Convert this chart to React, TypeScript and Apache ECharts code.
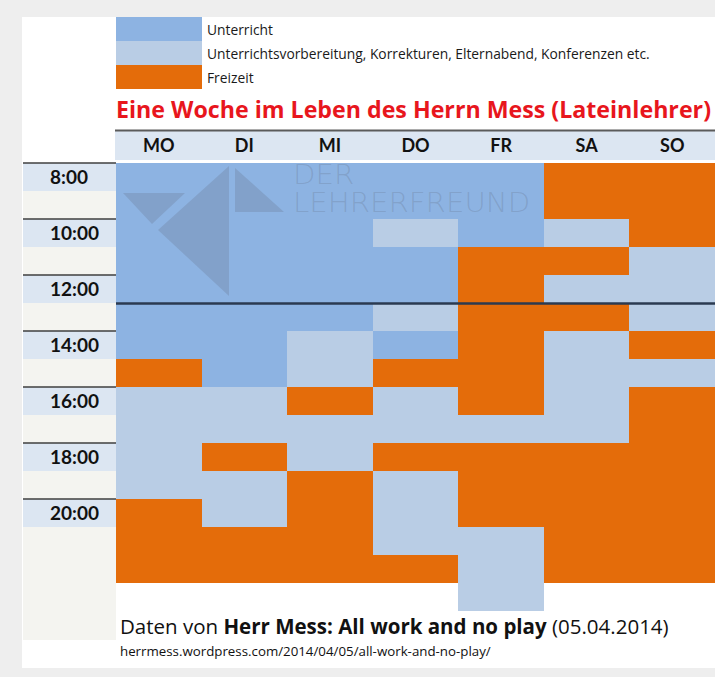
import React, { useEffect, useRef } from "react";
import * as echarts from "echarts";

// ---------- data ----------
const DAYS = ["MO", "DI", "MI", "DO", "FR", "SA", "SO"];
const FIRST_HOUR = 8;
const LAST_HOUR = 24;
const LABEL_HOURS = [8, 10, 12, 14, 16, 18, 20];
const TIME_LABELS = ["8:00", "10:00", "12:00", "14:00", "16:00", "18:00", "20:00"];
const LUNCH_LINE_HOUR = 13;

const CATEGORY_CODES = ["U", "V", "F"];
const CATEGORY_NAMES = [
  "Unterricht",
  "Unterrichtsvorbereitung, Korrekturen, Elternabend, Konferenzen etc.",
  "Freizeit",
];

// one entry per hour, 8:00 ... 23:00 ('' = nothing)
const MO = ["U", "U", "U", "U", "U", "U", "U", "F", "V", "V", "V", "V", "F", "F", "F", ""];
const DI = ["U", "U", "U", "U", "U", "U", "U", "U", "V", "V", "F", "V", "V", "F", "F", ""];
const MI = ["U", "U", "U", "U", "U", "U", "V", "V", "F", "V", "V", "F", "F", "F", "F", ""];
const DO = ["U", "U", "V", "U", "U", "V", "U", "F", "V", "V", "F", "V", "V", "V", "F", ""];
const FR = ["U", "U", "U", "F", "F", "F", "F", "F", "F", "V", "F", "F", "F", "V", "V", "V"];
const SA = ["F", "F", "V", "F", "V", "F", "V", "V", "V", "V", "F", "F", "F", "F", "F", ""];
const SO = ["F", "F", "F", "V", "V", "V", "F", "V", "F", "F", "F", "F", "F", "F", "F", ""];
const WEEK = [MO, DI, MI, DO, FR, SA, SO];

// ---------- styles ----------
const COLORS: Record<string, string> = { U: "#8db3e2", V: "#b9cde5", F: "#e46c0a" };
const FONT = "'Open Sans', sans-serif";
const LATO = "Lato, sans-serif";
const GRID = { left: 116, top: 163, width: 600, height: 448 };

function segmentsFor(code: string) {
  const out: number[][] = [];
  WEEK.forEach((hours, d) => {
    let i = 0;
    while (i < hours.length) {
      if (hours[i] !== code) {
        i++;
        continue;
      }
      let j = i;
      while (j < hours.length && hours[j] === code) j++;
      out.push([d, FIRST_HOUR + i, FIRST_HOUR + j]);
      i = j;
    }
  });
  return out;
}

export default function App() {
  const ref = useRef<HTMLDivElement>(null);

  useEffect(() => {
    if (!ref.current) return;
    const chart = echarts.init(ref.current, null, { renderer: "svg" });

    const series: any[] = CATEGORY_CODES.map((code, ci) => ({
      type: "custom",
      name: CATEGORY_NAMES[ci],
      itemStyle: { color: COLORS[code] },
      encode: { x: 0, y: [1, 2] },
      data: segmentsFor(code),
      renderItem: (params: any, api: any) => {
        const d = api.value(0);
        const a = api.coord([d, api.value(1)]);
        const b = api.coord([d, api.value(2)]);
        const w = api.size([1, 0])[0];
        const x0 = Math.round(a[0] - w / 2);
        const x1 = Math.round(a[0] + w / 2);
        const y0 = Math.round(a[1]);
        const y1 = Math.round(b[1]);
        return {
          type: "rect",
          shape: { x: x0, y: y0, width: x1 - x0, height: y1 - y0 },
          style: { fill: COLORS[code] },
        };
      },
      z: 2,
    }));
    series[0].markLine = {
      silent: true,
      symbol: "none",
      z: 20,
      label: { show: false },
      lineStyle: { color: "#2b3a50", width: 2.5, type: "solid", opacity: 1 },
      data: [{ yAxis: LUNCH_LINE_HOUR }],
    };

    chart.setOption({
      animation: false,
      backgroundColor: "#eeeeee",
      title: {
        text: "Eine Woche im Leben des Herrn Mess (Lateinlehrer)",
        left: 116,
        top: 97,
        padding: 0,
        textStyle: { color: "#e8161d", fontSize: 23.2, fontWeight: "bold", fontFamily: FONT },
      },
      legend: {
        orient: "vertical",
        left: 116,
        top: 17,
        padding: 0,
        itemGap: 0,
        itemWidth: 86,
        itemHeight: 24,
        icon: "rect",
        selectedMode: false,
        data: CATEGORY_NAMES,
        textStyle: { fontSize: 13.8, color: "#1a1a1a", fontFamily: FONT },
      },
      grid: { ...GRID },
      xAxis: {
        type: "category",
        data: DAYS,
        position: "top",
        axisLine: { show: false },
        axisTick: { show: false },
        splitLine: { show: false },
        axisLabel: {
          fontSize: 18,
          fontWeight: "bold",
          color: "#111",
          fontFamily: LATO,
          margin: 9,
          lineHeight: 18,
        },
      },
      yAxis: {
        type: "value",
        inverse: true,
        min: FIRST_HOUR,
        max: LAST_HOUR,
        interval: 2,
        axisLine: { show: false },
        axisTick: { show: false },
        splitLine: { show: false },
        axisLabel: {
          align: "left",
          margin: 66,
          verticalAlign: "top",
          lineHeight: 27,
          fontSize: 19,
          fontWeight: "bold",
          color: "#111",
          fontFamily: LATO,
          formatter: (v: number) => {
            const k = LABEL_HOURS.indexOf(v);
            return k >= 0 ? TIME_LABELS[k] : "";
          },
        },
      },
      series,
    });

    const y = (h: number) => chart.convertToPixel({ yAxisIndex: 0 }, h) as number;
    const colX = 23;
    const colW = GRID.left - colX;
    const gridRight = GRID.left + GRID.width;

    const graphic: any[] = [
      { type: "rect", z: -100, shape: { x: 22, y: 17, width: 700, height: 651 }, style: { fill: "#ffffff" } },
      { type: "rect", z: -50, shape: { x: 115, y: 130, width: gridRight - 115, height: 30 }, style: { fill: "#dce6f2" } },
      { type: "line", z: -40, shape: { x1: 115, y1: 130.5, x2: gridRight, y2: 130.5 }, style: { stroke: "#5b5b5b", lineWidth: 2 } },
      { type: "rect", z: -50, shape: { x: colX, y: y(FIRST_HOUR), width: colW, height: 640 - y(FIRST_HOUR) }, style: { fill: "#f4f4f0" } },
    ];
    LABEL_HOURS.forEach((h) => {
      graphic.push({
        type: "rect",
        z: -45,
        shape: { x: colX, y: y(h), width: colW, height: y(h + 1) - y(h) },
        style: { fill: "#dce6f2" },
      });
      graphic.push({
        type: "line",
        z: -40,
        shape: { x1: colX, y1: y(h), x2: GRID.left, y2: y(h) },
        style: { stroke: "#3f3f3f", lineWidth: 1.5 },
      });
    });

    // watermark
    const wm = "rgba(95,105,125,0.24)";
    const wmText = {
      fill: wm,
      fontSize: 25,
      fontFamily: "'DejaVu Sans', sans-serif",
      fontWeight: 200,
      verticalAlign: "middle",
    };
    graphic.push(
      { type: "polygon", z: 30, shape: { points: [[123, 193], [185, 193], [152, 224]] }, style: { fill: wm } },
      { type: "polygon", z: 30, shape: { points: [[158, 230], [229, 166], [229, 296]] }, style: { fill: wm } },
      { type: "polygon", z: 30, shape: { points: [[235, 168], [235, 212], [284, 212]] }, style: { fill: wm } },
      { type: "text", z: 30, x: 293, y: 175, scaleX: 1.17, scaleY: 1.08, style: { ...wmText, text: "DER" } },
      { type: "text", z: 30, x: 293, y: 202.5, scaleX: 1.17, scaleY: 1.08, style: { ...wmText, text: "LEHRERFREUND" } }
    );

    // source text
    graphic.push(
      {
        type: "text",
        z: 40,
        x: 120,
        y: 626,
        style: {
          text: "Daten von {b|Herr Mess: All work and no play} (05.04.2014)",
          rich: { b: { fontWeight: "bold", fontSize: 20.5, fontFamily: FONT, fill: "#111" } },
          fontSize: 20.5,
          fontFamily: FONT,
          fill: "#111",
          verticalAlign: "middle",
        },
      },
      {
        type: "text",
        z: 40,
        x: 120,
        y: 651,
        style: {
          text: "herrmess.wordpress.com/2014/04/05/all-work-and-no-play/",
          fontSize: 13.3,
          fontFamily: FONT,
          fill: "#111",
          verticalAlign: "middle",
        },
      }
    );

    chart.setOption({ graphic });

    return () => chart.dispose();
  }, []);

  return (
    <div
      ref={ref}
      style={{ position: "absolute", left: 0, top: 0, width: 715, height: 677 }}
    />
  );
}
